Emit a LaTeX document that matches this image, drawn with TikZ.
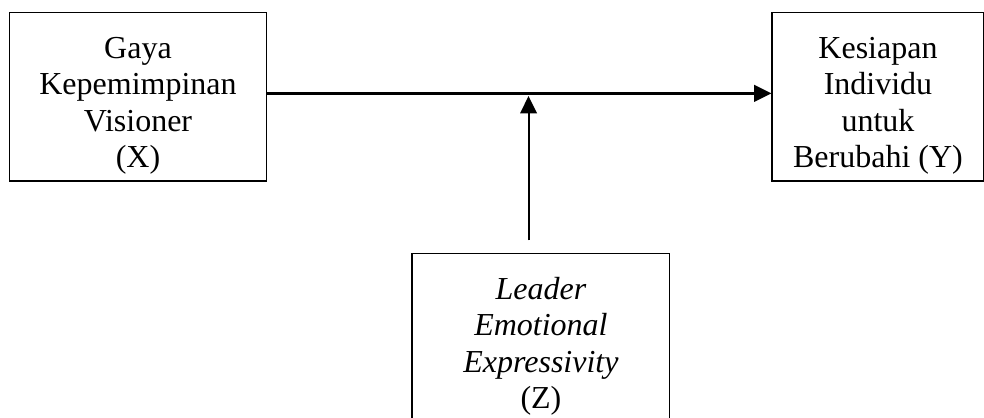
\documentclass[tikz,border=0pt]{standalone}
\usepackage{fontspec}
\setmainfont{Liberation Serif}
\usetikzlibrary{arrows.meta,
                positioning}
\tikzset{
        var/.style={draw, line width=0.6pt, align=center, inner sep=2pt,
                    minimum height=63.1pt, text height=55.5pt,
                    font=\fontsize{12}{13.6}\selectfont},
        myarrow/.style={-{Triangle[length=6.5pt, width=6.2pt]}},
 }
\begin{document}
\begin{tikzpicture}
    \useasboundingbox (0,0) rectangle (369pt,-156.4pt);

    \node[var, minimum width=96.5pt] (x) at (51.75pt,-36.3pt)
    {Gaya\\ Kepemimpinan\\ Visioner\\ (X)};

    \node[var, minimum width=79.3pt, right=189pt of x] (y)
    {Kesiapan\\ Individu\\ untuk\\ Berubahi (Y)};

    \node[var, minimum width=96.5pt, anchor=north] (z) at (202.85pt,-94.8pt)
    {\textit{Leader}\\ \textit{Emotional}\\ \textit{Expressivity}\\ (Z)};

    \coordinate (m) at (198.2pt,-35pt);

    \draw[myarrow, line width=1pt] (x.east |- m) -- (y.west |- m);
    \draw[myarrow, line width=0.75pt] ([yshift=4.7pt]z.north -| m) -- ([yshift=-1pt]m);

\end{tikzpicture}
\end{document}
